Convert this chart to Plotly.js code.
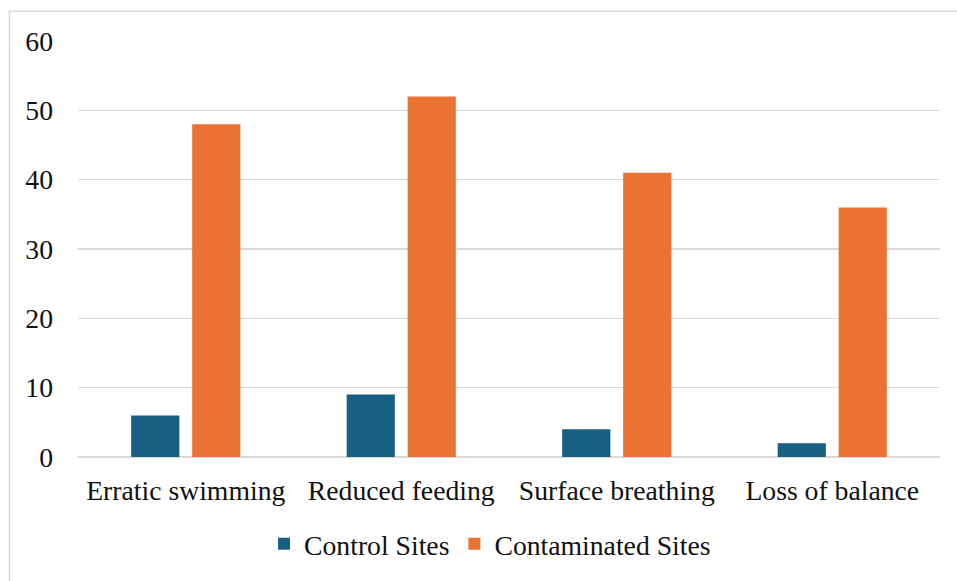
<!DOCTYPE html>
<html>
<head>
<meta charset="utf-8">
<script src="https://cdn.plot.ly/plotly-3.0.1.min.js"></script>
<style>
html,body{margin:0;padding:0;background:#fff;}
#chart{width:957px;height:581px;}
</style>
</head>
<body>
<div id="chart"></div>
<script>
var categories = ["Erratic swimming", "Reduced feeding", "Surface breathing", "Loss of balance"];
var controlSites = [6, 9, 4, 2];
var contaminatedSites = [48, 52, 41, 36];
var yTicks = [0, 10, 20, 30, 40, 50, 60];

var font = {family: "Liberation Serif", size: 27.7, color: "#111"};

var traces = [
  {type: "bar", name: "Control Sites", x: categories, y: controlSites,
   marker: {color: "#176083"}, hoverinfo: "none"},
  {type: "bar", name: "Contaminated Sites", x: categories, y: contaminatedSites,
   marker: {color: "#EA7334"}, hoverinfo: "none"}
];

var layout = {
  width: 957, height: 581,
  margin: {l: 78, r: 17, t: 41, b: 121},
  paper_bgcolor: "#fff", plot_bgcolor: "#fff",
  font: font,
  barmode: "group",
  bargap: 0.434,
  bargroupgap: 0.21,
  showlegend: true,
  legend: {orientation: "h", x: 0.478, xanchor: "center", y: -0.21, yanchor: "middle",
           font: font, itemwidth: 30, traceorder: "normal"},
  xaxis: {type: "category", tickfont: font, showgrid: false, zeroline: false,
          showline: false, ticks: "", automargin: false, ticklabelstandoff: 14},
  yaxis: {range: [0, 60], tickvals: yTicks, ticktext: yTicks.map(String), tickfont: font,
          showgrid: true, gridcolor: "#d9d9d9", gridwidth: 1.5, zeroline: true,
          zerolinecolor: "#d9d9d9", zerolinewidth: 1.5, showline: false, ticks: "",
          ticklabelstandoff: 24, automargin: false, fixedrange: true},
  shapes: [{type: "rect", xref: "paper", yref: "paper", x0: -0.0795, x1: 1.1,
            y0: -0.5, y1: 1.0716, line: {color: "#d9d9d9", width: 1.5}, fillcolor: "rgba(0,0,0,0)",
            layer: "below"}]
};

Plotly.newPlot("chart", traces, layout, {displayModeBar: false, staticPlot: true});
</script>
</body>
</html>
